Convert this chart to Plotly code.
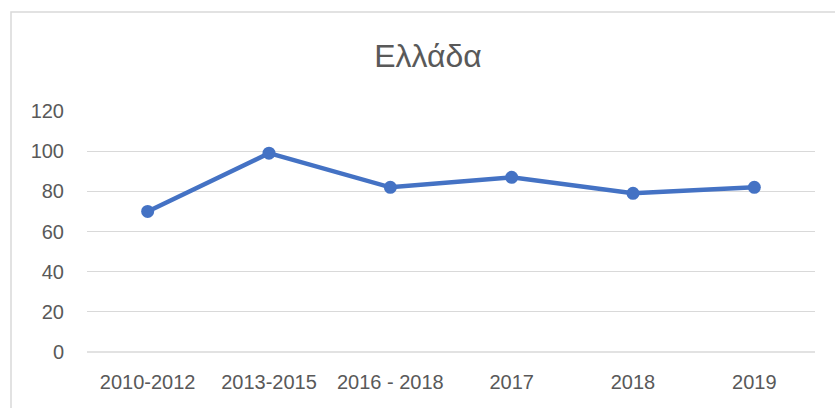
import plotly.graph_objects as go

categories = ["2010-2012", "2013-2015", "2016 - 2018", "2017", "2018", "2019"]
values = [70, 99, 82, 87, 79, 82]
y_ticks = [0, 20, 40, 60, 80, 100, 120]
title_text = "Ελλάδα"

W, H = 835, 408
L, R, T, B = 87, 20, 111, 56
pw = W - L - R
ph = H - T - B

fig = go.Figure()
fig.add_trace(go.Scatter(
    x=categories, y=values, mode="lines+markers",
    line=dict(color="#4472C4", width=4.5),
    marker=dict(color="#4472C4", size=13),
    hoverinfo="x+y",
))

font_family = "Liberation Sans, Arial, sans-serif"
fig.update_layout(
    width=W, height=H,
    margin=dict(l=L, r=R, t=T, b=B, autoexpand=False),
    paper_bgcolor="white", plot_bgcolor="white",
    showlegend=False,
    font=dict(family=font_family, color="#595959", size=20),
    title=dict(text=title_text, x=428 / W, xanchor="center",
               y=1 - 56 / H, yanchor="middle", yref="container",
               font=dict(size=32, color="#595959", family=font_family)),
    xaxis=dict(type="category", range=[-0.5, len(categories) - 0.5],
               showgrid=False, zeroline=False, showline=False, ticks="",
               tickfont=dict(size=20, color="#595959"), ticklabelstandoff=16,
               fixedrange=True),
    yaxis=dict(range=[0, 120], tickvals=y_ticks, showgrid=True,
               gridcolor="#d9d9d9", gridwidth=1.3, zeroline=False,
               showline=False, ticks="", tickfont=dict(size=20, color="#595959"),
               ticklabelstandoff=22, fixedrange=True),
    shapes=[dict(type="line", xref="paper", yref="paper",
                 x0=0, x1=1, y0=0, y1=0, line=dict(color="#d9d9d9", width=1.5)),
            dict(type="rect", xref="paper", yref="paper",
                 x0=(11 - L) / pw, x1=(W + 20 - L) / pw,
                 y0=-(H + 20 - T - ph) / ph, y1=(H - B - 12) / ph,
                 line=dict(color="#d9d9d9", width=1.5), fillcolor="rgba(0,0,0,0)",
                 layer="below")],
)

fig.write_html("out.html", config={"displayModeBar": False},
               post_script="document.body.style.margin='0';document.body.style.padding='0';")
